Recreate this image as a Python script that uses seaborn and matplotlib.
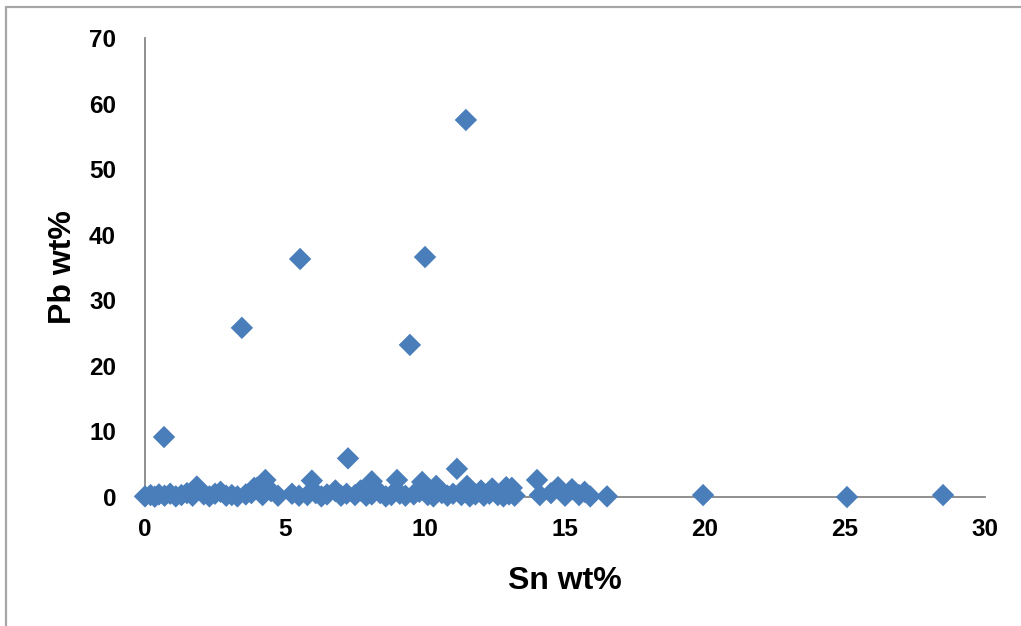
import numpy as np
import pandas as pd
import seaborn as sns
import matplotlib.pyplot as plt
from matplotlib.lines import Line2D

# Sn / Pb content (wt%)
sn_base = [0.0, 0.2, 0.35, 0.5, 0.7, 0.9, 1.1, 1.3, 1.5, 1.7, 1.9, 2.1, 2.3, 2.5,
           2.7, 2.9, 3.1, 3.3, 3.6, 3.8, 4.0, 4.2, 4.5, 4.75, 5.25, 5.5, 5.8, 6.1,
           6.3, 6.5, 6.8, 7.0, 7.2, 7.5, 7.7, 7.9, 8.1, 8.4, 8.6, 8.8, 9.1, 9.3,
           9.6, 9.8, 10.1, 10.3, 10.6, 10.8, 11.0, 11.3, 11.6, 11.8, 12.1, 12.3,
           12.6, 12.8, 13.0, 13.2, 14.1, 14.5, 15.0, 15.5, 15.9]
pb_base = [0.1, 0.3, 0.05, 0.4, 0.2, 0.5, 0.1, 0.3, 0.6, 0.2, 1.3, 0.4, 0.1, 0.5,
           0.8, 0.2, 0.3, 0.1, 0.4, 0.6, 1.4, 0.3, 0.9, 0.2, 0.5, 0.2, 0.3, 0.6,
           0.1, 0.4, 0.9, 0.2, 0.5, 0.3, 1.0, 0.2, 0.4, 0.6, 0.1, 0.3, 0.5, 0.2,
           0.4, 0.8, 0.3, 0.1, 0.6, 0.2, 0.5, 0.3, 0.1, 0.4, 0.2, 0.5, 0.3, 0.1,
           0.4, 0.2, 0.3, 0.6, 0.2, 0.3, 0.1]

sn_bump = [1.85, 3.9, 4.3, 5.96, 6.8, 8.1, 9.0, 9.9, 10.4, 11.5, 12.0, 12.4,
           12.9, 13.1, 14.0, 14.75, 15.25, 15.7]
pb_bump = [1.6, 1.4, 2.6, 2.5, 1.0, 2.4, 2.6, 2.3, 1.7, 1.7, 1.0, 1.3,
           1.5, 1.4, 2.6, 1.5, 1.2, 0.8]

sn_high = [0.68, 3.46, 5.54, 7.25, 9.46, 10.0, 11.14, 11.46, 16.5, 19.93, 25.07, 28.5]
pb_high = [9.15, 25.8, 36.3, 5.9, 23.2, 36.6, 4.3, 57.5, 0.1, 0.3, 0.0, 0.3]

df = pd.DataFrame({
    "Sn": sn_base + sn_bump + sn_high,
    "Pb": pb_base + pb_bump + pb_high,
})

sns.set_style("white")
plt.rcParams['font.family'] = ['Liberation Sans', 'DejaVu Sans']

fig = plt.figure(figsize=(10.21, 6.26), dpi=100)
ax = fig.add_axes([0.142, 0.206, 0.8228, 0.7333])

sns.scatterplot(data=df, x="Sn", y="Pb", marker="D", s=130, color="#4A7EBB",
                edgecolor="none", linewidth=0, ax=ax, clip_on=False, zorder=3)

ax.set_xlim(0, 30)
ax.set_ylim(0, 70)
ax.set_xticks(range(0, 31, 5))
ax.set_yticks(range(0, 71, 10))

axis_gray = "#868686"
for side in ["top", "right"]:
    ax.spines[side].set_visible(False)
for side in ["left", "bottom"]:
    ax.spines[side].set_color(axis_gray)
    ax.spines[side].set_linewidth(1.3)

ax.tick_params(axis="both", direction="out", length=5.8, width=1.3, color=axis_gray,
               labelsize=17.5, labelcolor="black")
ax.tick_params(axis="x", pad=9)
ax.tick_params(axis="y", pad=15)
for lab in ax.get_xticklabels() + ax.get_yticklabels():
    lab.set_fontweight("bold")

ax.set_xlabel("Sn wt%", fontsize=23, fontweight="bold", labelpad=18, color="black")
ax.set_ylabel("Pb wt%", fontsize=23, fontweight="bold", labelpad=8, color="black")
ax.grid(False)

# thin frame on the left and top edges of the image
fig.add_artist(Line2D([0.006, 0.006], [0, 0.989], color="#a6a6a6", lw=1.6,
                      transform=fig.transFigure))
fig.add_artist(Line2D([0.006, 1.0], [0.989, 0.989], color="#a6a6a6", lw=1.6,
                      transform=fig.transFigure))

fig.savefig("out.png", dpi=100)
